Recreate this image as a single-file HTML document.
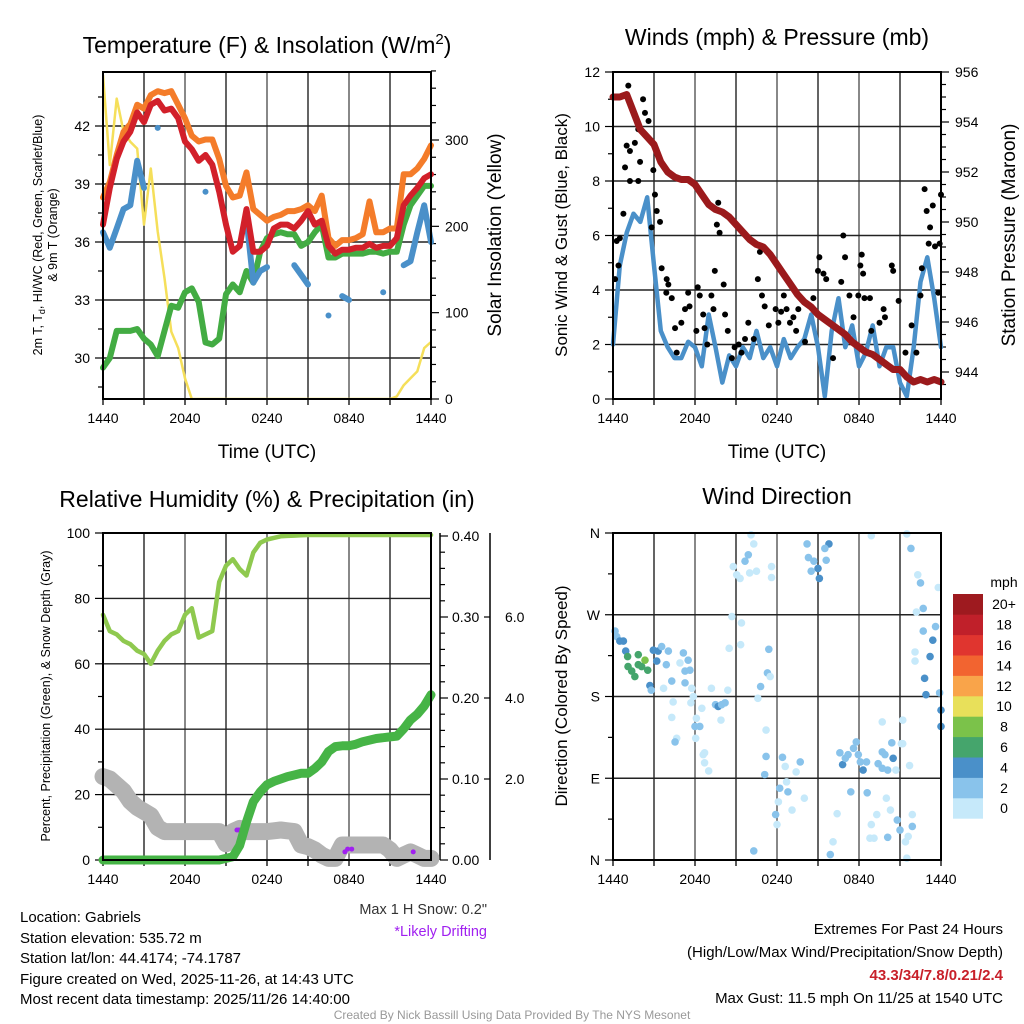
<!DOCTYPE html>
<html><head><meta charset="utf-8">
<style>
html,body{margin:0;padding:0;background:#fff;}
svg{display:block;font-family:"Liberation Sans",Arial,sans-serif;}
</style></head>
<body>
<svg id="fig" width="1024" height="1024" viewBox="0 0 1024 1024" xmlns="http://www.w3.org/2000/svg">
<rect x="0" y="0" width="1024" height="1024" fill="#fff"/>
<g id="layer"></g>
<!-- titles -->
<text x="267" y="53" font-size="23" text-anchor="middle">Temperature (F) &amp; Insolation (W/m<tspan dy="-9" font-size="15">2</tspan><tspan dy="9">)</tspan></text>
<text x="777" y="45" font-size="23" text-anchor="middle">Winds (mph) &amp; Pressure (mb)</text>
<text x="267" y="507" font-size="23" text-anchor="middle">Relative Humidity (%) &amp; Precipitation (in)</text>
<text x="777" y="504" font-size="23" text-anchor="middle">Wind Direction</text>
<!-- axis titles -->
<text x="267" y="458" font-size="19" text-anchor="middle">Time (UTC)</text>
<text x="777" y="458" font-size="19" text-anchor="middle">Time (UTC)</text>
<text transform="translate(42,235) rotate(-90)" font-size="12.5" text-anchor="middle">2m T, T<tspan dy="3" font-size="9">d</tspan><tspan dy="-3">, HI/WC (Red, Green, Scarlet/Blue)</tspan></text>
<text transform="translate(57,235) rotate(-90)" font-size="12.5" text-anchor="middle">&amp; 9m T (Orange)</text>
<text transform="translate(501,235) rotate(-90)" font-size="19" text-anchor="middle">Solar Insolation (Yellow)</text>
<text transform="translate(567,235) rotate(-90)" font-size="17" text-anchor="middle">Sonic Wind &amp; Gust (Blue, Black)</text>
<text transform="translate(1015,235) rotate(-90)" font-size="19" text-anchor="middle">Station Pressure (Maroon)</text>
<text transform="translate(50,696) rotate(-90)" font-size="12.5" text-anchor="middle">Percent, Precipitation (Green), &amp; Snow Depth (Gray)</text>
<text transform="translate(567,696) rotate(-90)" font-size="17" text-anchor="middle">Direction (Colored By Speed)</text>
<!-- notes -->
<text x="487" y="914" font-size="14.5" text-anchor="end" fill="#333">Max 1 H Snow: 0.2"</text>
<text x="487" y="936" font-size="14.5" text-anchor="end" fill="#a020f0">*Likely Drifting</text>
<g font-size="15">
<text x="20" y="922">Location: Gabriels</text>
<text x="20" y="943">Station elevation: 535.72 m</text>
<text x="20" y="963">Station lat/lon: 44.4174; -74.1787</text>
<text x="20" y="984">Figure created on Wed, 2025-11-26, at 14:43 UTC</text>
<text x="20" y="1004">Most recent data timestamp: 2025/11/26 14:40:00</text>
</g>
<g font-size="15" text-anchor="end">
<text x="1003" y="934">Extremes For Past 24 Hours</text>
<text x="1003" y="957">(High/Low/Max Wind/Precipitation/Snow Depth)</text>
<text x="1003" y="980" fill="#c8202a" font-weight="bold">43.3/34/7.8/0.21/2.4</text>
<text x="1003" y="1003">Max Gust: 11.5 mph On 11/25 at 1540 UTC</text>
</g>
<text x="512" y="1019" font-size="12" text-anchor="middle" fill="#999">Created By Nick Bassill Using Data Provided By The NYS Mesonet</text>
</svg>
<script>
// ---------- data ----------
const halfHours = [0,0.5,1,1.5,2,2.5,3,3.5,4,4.5,5,5.5,6,6.5,7,7.5,8,8.5,9,9.5,10,10.5,11,11.5,12,12.5,13,13.5,14,14.5,15,15.5,16,16.5,17,17.5,18,18.5,19,19.5,20,20.5,21,21.5,22,22.5,23,23.5,24];
const xTickLabels = ["1440","2040","0240","0840","1440"];
const tempTicks = [30,33,36,39,42];
const solarTicks = [0,100,200,300];
const temp2m = [36.9,38.8,40.3,41.2,41.7,42.7,42.2,43.1,43.3,42.8,42.9,42.4,41.2,40.8,40.2,40.5,40.0,38.6,36.9,35.5,35.8,37.7,35.5,35.5,35.8,36.7,36.9,36.9,36.7,37.1,37.6,36.9,37.1,35.8,35.4,35.6,35.6,35.7,35.7,35.9,35.7,35.8,35.8,36.2,37.9,38.4,38.8,39.3,39.5];
const temp9m = [38.3,39.1,40.5,41.7,42.1,43.1,42.9,43.6,43.8,43.7,43.8,43.1,42.4,41.5,41.2,41.3,41.3,40.3,38.9,38.3,38.4,39.6,37.7,37.4,37.1,37.3,37.4,37.6,37.6,37.7,37.9,37.6,38.4,36.2,35.8,36.1,36.1,36.2,36.4,38.1,36.5,36.5,36.7,36.7,39.5,39.5,39.8,40.3,41.0];
const dewPoint = [29.5,30.0,31.4,31.4,31.4,31.5,31.0,30.7,30.1,31.4,32.7,32.6,33.4,33.6,32.9,30.8,30.7,31.0,33.3,33.8,33.4,34.5,33.9,35.5,36.2,36.4,36.5,36.4,36.4,35.8,36.0,36.5,36.9,35.2,35.2,35.4,35.4,35.4,35.4,35.5,35.5,35.4,35.5,35.5,36.9,37.9,38.4,38.9,38.9];
const heatWindChill = [36.5,35.7,36.7,37.7,37.9,40.2,38.8,null,41.9,null,null,null,null,null,null,38.6,null,null,null,null,null,37.2,33.9,34.5,34.7,null,null,null,34.8,34.3,33.8,null,null,32.2,null,33.2,33.0,null,null,null,null,33.4,null,null,34.8,35.0,36.5,37.9,36.0];
const solar = [375,271,348,310,298,290,202,267,194,140,78,59,24,0,0,0,0,0,0,0,0,0,0,0,0,0,0,0,0,0,0,0,0,0,0,0,0,0,0,0,0,0,0,3,16,24,32,59,66];

const windTicks = [0,2,4,6,8,10,12];
const pressTicks = [944,946,948,950,952,954,956];
const pressure = [955.0,955.0,955.1,954.4,953.7,953.4,953.1,952.4,952.0,951.8,951.7,951.7,951.5,951.1,950.7,950.5,950.4,950.2,949.9,949.6,949.3,949.1,949.0,948.7,948.3,947.9,947.5,947.1,946.8,946.6,946.3,946.1,945.9,945.7,945.5,945.2,945.0,944.8,944.7,944.5,944.3,944.1,944.1,943.8,943.6,943.7,943.6,943.7,943.6];
const sonicWind = [2.0,4.9,6.1,6.8,6.5,7.4,4.9,2.5,1.9,1.5,1.5,2.1,1.9,1.2,3.1,1.9,0.6,1.6,1.2,1.9,1.5,2.5,1.5,1.9,1.2,2.2,1.5,1.9,2.2,3.1,1.9,0.1,2.5,3.7,1.9,2.7,1.2,1.7,2.7,1.2,1.9,1.9,0.6,0.1,1.9,4.3,5.2,3.7,1.9];
const gustHours = [0.15,0.27,0.5,0.4,0.76,1.12,1.0,1.24,0.88,1.24,1.6,1.85,2.2,2.34,1.98,1.85,2.6,2.95,3.07,3.2,3.44,2.83,3.56,3.93,4.05,3.9,4.3,4.54,4.66,5.0,5.27,5.5,5.6,6.1,6.2,6.35,6.6,6.7,6.9,7.2,7.45,7.35,7.7,7.6,7.8,8.1,8.2,8.4,8.7,8.9,9.2,9.4,9.66,9.9,10.3,10.6,10.75,10.9,11.1,11.4,11.9,12.1,12.3,12.5,12.7,12.95,13.2,13.56,13.4,14.05,14.66,15.0,15.1,15.4,15.6,16.1,16.7,16.85,16.98,17.3,17.6,17.95,18.1,18.3,18.4,18.2,18.8,18.9,19.5,19.8,19.9,20.4,20.5,20.9,21.4,21.85,22.2,22.5,22.6,22.8,22.95,23.1,23.2,23.4,23.56,24.0,23.9,23.8];
const gustSpeeds = [4.4,5.8,5.9,4.9,6.8,11.5,9.3,9.1,8.5,8.0,9.4,9.9,11.0,10.5,8.7,8.0,10.2,8.4,7.5,6.9,6.5,6.3,4.8,4.4,4.2,3.9,3.7,2.6,1.7,2.8,3.3,3.9,3.4,2.5,4.1,3.8,3.1,2.6,2.0,3.8,4.7,3.3,7.2,6.4,6.1,4.2,3.1,2.5,1.5,1.9,2.0,1.7,2.2,2.8,2.2,4.4,5.4,3.8,3.4,2.7,3.3,2.8,3.2,3.8,3.3,2.8,3.0,3.3,2.5,2.1,3.7,4.7,5.2,4.6,4.4,1.5,4.3,6.0,5.2,3.8,3.0,3.8,4.9,4.6,3.7,5.3,3.7,2.5,2.8,3.3,3.0,4.9,4.7,3.6,1.7,2.7,1.7,3.8,4.8,7.7,6.9,5.7,6.3,7.1,5.6,7.5,5.7,3.9];

const rhTicks = [0,20,40,60,80,100];
const precipTicks = ["0.00","0.10","0.20","0.30","0.40"];
const snowTicks = ["2.0","4.0","6.0"];
const relHum = [75,70,69,67,66,64,63,60,64,67,69,70,75,77,68,69,70,85,90,92,89,87,94,97,98,98.5,99,99.1,99.2,99.3,99.4,99.4,99.4,99.4,99.4,99.4,99.4,99.4,99.4,99.4,99.4,99.4,99.4,99.4,99.4,99.4,99.4,99.4,99.4];
const precip = [0,0,0,0,0,0,0,0,0,0,0,0,0,0,0,0,0,0,0.002,0.004,0.018,0.047,0.072,0.084,0.093,0.097,0.100,0.103,0.105,0.107,0.107,0.113,0.121,0.134,0.140,0.141,0.141,0.143,0.146,0.148,0.150,0.151,0.152,0.153,0.162,0.173,0.180,0.190,0.204];
const snowDepth = [2.06,2.0,1.85,1.7,1.45,1.3,1.2,1.1,0.8,0.7,0.7,0.7,0.7,0.7,0.7,0.7,0.7,0.7,0.4,0.7,0.78,0.7,0.7,0.7,0.7,0.72,0.74,0.72,0.7,0.37,0.33,0.25,0.12,0.04,0.04,0.37,0.37,0.37,0.37,0.37,0.37,0.37,0.25,0.04,0.12,0.2,0.12,0.04,0.04];
const driftHours = [9.8,9.95,17.7,17.9,18.2,22.7];
const driftDepth = [0.74,0.74,0.2,0.27,0.27,0.2];

const dirLabels = ["N","E","S","W","N"];
const speedBins = ["0","2","4","6","8","10","12","14","16","18","20+"];
const dirHours = [10.1,10.3,9.9,9.66,8.8,9.05,9.3,10.0,10.5,11.6,11.6,8.7,9.4,8.5,9.34,11.4,11.3,11.5,10.8,10.6,11.2,11.2,11.1,12.4,12.6,13.7,13.4,12.7,12.2,12.8,12.1,13.1,11.9,12.0,14.0,10.3,
14.2,15.8,15.5,14.3,14.7,15.0,15.1,14.5,15.6,
18.9,21.5,21.8,22.3,22.5,23.8,22.7,22.2,23.6,22.7,23.4,23.2,22.1,22.1,22.8,22.9,23.9,24.0,24.0,21.2,19.7,21.1,
16.6,16.8,17.0,17.2,17.6,17.8,17.95,18.1,18.3,18.55,17.4,18.6,19.7,19.9,20.4,20.5,19.7,19.4,20.1,20.7,21.7,21.2,20.0,20.3,19.3,18.9,19.1,18.8,20.1,20.8,21.0,21.9,21.9,21.6,21.4,21.5,16.4,16.1,15.9,
0.15,0.27,0.5,0.76,0.93,1.07,1.85,1.1,1.37,1.6,1.85,2.1,2.34,2.54,2.95,3.3,3.56,4.05,3.2,3.9,2.7,2.8,3.7,4.3,4.9,5.15,5.5,5.27,5.63,5.27,5.76,4.4,4.3,4.66,4.54,5.88,5.7,6.5,6.1,6.0,6.35,6.05,6.7,6.6,6.7,7.0,7.2,7.5,7.7,7.95,8.2,7.9,8.4];
const dirDegrees = [358,348,336,329,323,314,310,316,318,323,311,268,261,233,237,232,206,202,191,178,143,114,94,113,103,108,97,86,79,75,64,55,50,39,68,10,
348,348,343,333,329,321,310,318,330,
357,359,343,314,305,300,277,273,257,252,242,224,229,219,200,182,184,165,147,154,152,128,
118,105,112,116,123,130,116,108,99,108,75,74,119,116,129,112,101,106,99,99,104,128,68,55,50,39,24,24,25,44,33,50,37,26,20,2,51,20,6,
252,246,241,241,230,224,226,213,208,202,215,213,220,209,231,230,235,230,219,215,192,187,189,197,217,228,220,208,209,195,189,174,157,134,130,180,173,167,156,147,147,134,118,116,107,98,189,171,169,171,173,154,187];
const dirSpeeds = [1,1,3,3,1,1,1,1,1,1,1,1,1,1,1,3,3,1,3,1,1,3,3,3,1,3,1,1,3,3,1,1,3,1,1,3,
3,5,3,3,3,5,5,3,3,
1,1,3,1,3,1,3,1,3,3,5,5,1,1,5,5,3,5,5,1,1,1,
3,5,3,3,3,3,3,3,5,3,3,3,3,3,3,5,3,3,3,1,1,1,1,1,1,1,1,1,3,3,3,1,3,1,1,1,1,1,3,
3,3,5,5,5,7,7,7,7,7,7,7,9,7,5,5,3,3,5,3,5,3,1,3,1,3,3,3,3,3,1,1,1,1,3,1,1,1,1,3,3,1,1,1,1,1,1,3,5,3,3,1,1];

// ---------- drawing ----------
const NS = "http://www.w3.org/2000/svg";
const layer = document.getElementById('layer');
function el(tag, attrs, parent){
  const e = document.createElementNS(NS, tag);
  for (const k in attrs) e.setAttribute(k, attrs[k]);
  (parent||layer).appendChild(e);
  return e;
}
const binColors = ["#c6e9fa","#89c3eb","#4a90c9","#45a56c","#7bc24a","#e8e05a","#f9a44a","#f26430","#e0352f","#c0202a","#9e1a1f"];
function speedColor(s){ let i = Math.floor(s/2); if(i>10)i=10; if(i<0)i=0; return binColors[i]; }

const PW = 328, PH = 327;
function xAt(x0, h){ return x0 + h*(PW/24); }
function lin(v, v0, y0, v1, y1){ return y0 + (v-v0)*(y1-y0)/(v1-v0); }

function pathFrom(x0, xs, ys, yf){
  let d = "", pen = false;
  for (let i=0;i<ys.length;i++){
    const v = ys[i];
    if (v===null || v===undefined){ pen=false; continue; }
    const x = xAt(x0, xs[i]).toFixed(1), y = yf(v).toFixed(1);
    if (!pen){
      const next = ys[i+1];
      d += "M"+x+" "+y+" ";
      if (next===null || next===undefined) d += "L"+x+" "+y+" ";
      pen = true;
    } else d += "L"+x+" "+y+" ";
  }
  return d;
}

function frame(x0, y0, name){
  const g = el('g', {});
  
  
  // vertical grid every 3 hours
  for (let h=3; h<24; h+=3){
    const x = xAt(x0,h);
    const ln = el('line', {x1:x,y1:y0,x2:x,y2:y0+PH,stroke:(h%6===0)?'#555':'#222','stroke-width':1.4}, g);
    
    
  }
  // x ticks + labels
  for (let h=0; h<=24; h+=3){
    const x = xAt(x0,h);
    el('line',{x1:x,y1:y0+PH,x2:x,y2:y0+PH+6,stroke:'#000','stroke-width':1.3}, g);
  }
  xTickLabels.forEach((t,i)=>{
    const tx = el('text',{x:xAt(x0,i*6),y:y0+PH+24,'font-size':14,'text-anchor':'middle'}, g);
    tx.textContent = t;
    
    
  });
  return g;
}
function border(x0,y0,name){
  const r = el('rect',{x:x0,y:y0,width:PW,height:PH,fill:'none',stroke:'#000','stroke-width':2});
  
  
}
function hgrid(x0,y0,y){
  const l = el('line',{x1:x0,y1:y,x2:x0+PW,y2:y,stroke:'#222','stroke-width':1.4});
  
  
}
function leftTick(x0,y,label,major){
  el('line',{x1:x0-(major?8:5),y1:y,x2:x0,y2:y,stroke:'#000','stroke-width':1.2});
  if(label!==null){
    const t = el('text',{x:x0-13,y:y+5,'font-size':14,'text-anchor':'end'});
    t.textContent = label;
    
    
  }
}
function rightTick(x,y,label,major,lx){
  el('line',{x1:x,y1:y,x2:x+(major?8:5),y2:y,stroke:'#000','stroke-width':1.2});
  if(label!==null){
    const t = el('text',{x:lx||(x+14),y:y+5,'font-size':14,'text-anchor':'start'});
    t.textContent = label;
    
    
  }
}
function series(x0, ys, yf, color, w, name, extra){
  const p = el('path',{d:pathFrom(x0, halfHours, ys, yf),fill:'none',stroke:color,'stroke-width':w,'stroke-linecap':'round','stroke-linejoin':'round'});
  if(extra) for(const k in extra) p.setAttribute(k, extra[k]);
  
  
  return p;
}

// ===== Panel 1: temperature =====
(function(){
  const x0=103, y0=72;
  const yT = v => lin(v, 30, 358, 42, 126);
  const yS = v => lin(v, 0, 399, 300, 140);
  frame(x0,y0,'temperature');
  tempTicks.forEach(t=>{ hgrid(x0,y0,yT(t)); leftTick(x0,yT(t),String(t),true); });
  for (let t=28.5; t<44.6; t+=3) leftTick(x0,yT(t),null,false);
  solarTicks.forEach(s=>rightTick(x0+PW,yS(s),String(s),true));
  for (let s=20; s<=380; s+=20) if(s%100) rightTick(x0+PW,yS(s),null,false);
  const cp = el('clipPath',{id:'c1'}); el('rect',{x:x0,y:y0,width:PW,height:PH},cp);
  series(x0, solar, yS, '#f5df5a', 2.5, 'solar-insolation-line', {'clip-path':'url(#c1)'});
  series(x0, dewPoint, yT, '#43ac43', 6, 'dewpoint-line');
  series(x0, heatWindChill, yT, '#4a90c9', 6, 'heat-index-windchill-line');
  series(x0, temp9m, yT, '#f47c2a', 6, 'temp-9m-line');
  series(x0, temp2m, yT, '#d2202a', 6, 'temp-2m-line');
  border(x0,y0,'temperature');
})();

// ===== Panel 2: winds & pressure =====
(function(){
  const x0=613, y0=72;
  const yW = v => lin(v, 0, 399, 12, 72);
  const yP = v => lin(v, 944, 372, 956, 72);
  frame(x0,y0,'wind');
  windTicks.forEach(t=>{ if(t>0&&t<12) hgrid(x0,y0,yW(t)); leftTick(x0,yW(t),String(t),true); });
  for (let t=1; t<12; t+=2) leftTick(x0,yW(t),null,false);
  pressTicks.forEach(p=>rightTick(x0+PW,yP(p),String(p),true));
  for (let p=943.5; p<956; p+=0.5) if(p%2) rightTick(x0+PW,yP(p),null,false);
  series(x0, sonicWind, yW, '#4a90c9', 4.5, 'sonic-wind-line');
  const g = el('g',{});
  
  
  gustHours.forEach((h,i)=>{
    const c = el('circle',{cx:xAt(x0,h),cy:yW(gustSpeeds[i]),r:3,fill:'#000'}, g);
    
    
  });
  series(x0, pressure, yP, '#9b1a1c', 7, 'pressure-line');
  border(x0,y0,'wind');
})();

// ===== Panel 3: RH & precip =====
(function(){
  const x0=103, y0=533;
  const yR = v => lin(v, 0, 860, 100, 533);
  const yPr = v => lin(v, 0, 860, 0.4, 536);
  const ySn = v => lin(v, 0, 860, 8, 536);
  frame(x0,y0,'humidity');
  rhTicks.forEach(t=>{ if(t>0&&t<100) hgrid(x0,y0,yR(t)); leftTick(x0,yR(t),String(t),true); });
  for (let t=10; t<100; t+=20) leftTick(x0,yR(t),null,false);
  // precip axis
  const a1 = el('line',{x1:440,y1:533,x2:440,y2:860,stroke:'#000','stroke-width':1.5});
  
  
  precipTicks.forEach(t=>rightTick(440,yPr(parseFloat(t)),t,true,452));
  for (let p=0.02; p<0.4; p+=0.02) if(Math.round(p*100)%10) rightTick(440,yPr(p),null,false);
  const a2 = el('line',{x1:490,y1:533,x2:490,y2:860,stroke:'#000','stroke-width':1.5});
  
  
  snowTicks.forEach(t=>{
    el('line',{x1:490,y1:ySn(parseFloat(t)),x2:484,y2:ySn(parseFloat(t)),stroke:'#000','stroke-width':1.2});
    const tx = el('text',{x:505,y:ySn(parseFloat(t))+5,'font-size':14});
    tx.textContent = t;
    
    
  });
  series(x0, snowDepth, ySn, '#b3b3b3', 17, 'snow-depth-line');
  driftHours.forEach((h,i)=>{
    const c = el('circle',{cx:xAt(x0,h),cy:ySn(driftDepth[i]),r:2.5,fill:'#a020f0'});
    
    
  });
  series(x0, precip, yPr, '#46b446', 9, 'precipitation-line');
  series(x0, relHum, yR, '#8fc94f', 4.5, 'relative-humidity-line');
  border(x0,y0,'humidity');
})();

// ===== Panel 4: wind direction =====
(function(){
  const x0=613, y0=533;
  const yD = v => lin(v, 0, 860, 360, 533);
  frame(x0,y0,'direction');
  dirLabels.forEach((t,i)=>{
    const y = yD(i*90);
    if(i>0&&i<4) hgrid(x0,y0,y);
    leftTick(x0,y,t,true);
  });
  for (let d=45; d<360; d+=90) leftTick(x0,yD(d),null,false);
  const g = el('g',{});
  
  
  dirHours.forEach((h,i)=>{
    const c = el('circle',{cx:xAt(x0,h),cy:yD(dirDegrees[i]),r:3.8,fill:speedColor(dirSpeeds[i])}, g);
    
    
  });
  border(x0,y0,'direction');
  // colorbar
  const cb = el('g',{});
  
  
  const mph = el('text',{x:1004,y:587,'font-size':14,'text-anchor':'middle'}, cb);
  mph.textContent = 'mph';
  
  
  const bh = 20.4, top = 594;
  speedBins.forEach((lab,i)=>{
    const k = speedBins.length-1-i;
    const r = el('rect',{x:953,y:top+k*bh,width:30,height:bh+0.3,fill:binColors[i]}, cb);
    
    
    const t = el('text',{x:1004,y:top+k*bh+bh/2+5,'font-size':14,'text-anchor':'middle'}, cb);
    t.textContent = lab;
    
    
  });
})();
</script>
</body></html>
